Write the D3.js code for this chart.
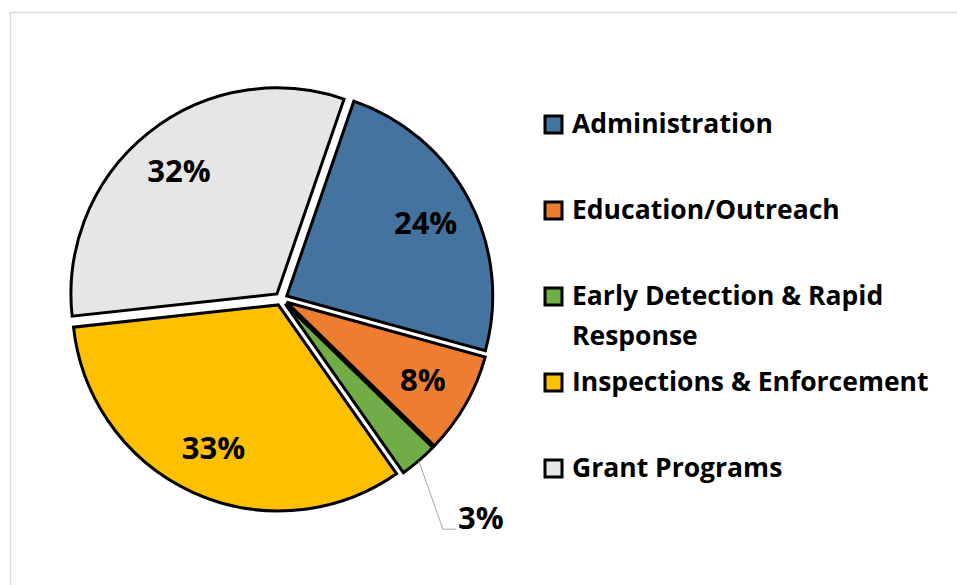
<!DOCTYPE html>
<html>
<head>
<meta charset="utf-8">
<script src="https://cdn.jsdelivr.net/npm/d3@7"></script>
<style>
  body { margin: 0; background: #fff; }
  text { font-family: "Open Sans", sans-serif; font-weight: bold; fill: #000; }
</style>
</head>
<body>
<div id="chart"></div>
<script>
// data
var categories = ["Administration", "Education/Outreach", "Early Detection & Rapid Response", "Inspections & Enforcement", "Grant Programs"]
var shares = [24, 8, 3, 33, 32]
var colors = ["#44739f", "#ed7d31", "#70ad47", "#ffc000", "#e6e6e6"]

var width = 957, height = 585
var cx = 281, cy = 299, radius = 206, explode = 6.5

var svg = d3.select("#chart").append("svg")
  .attr("width", width)
  .attr("height", height)

// chart frame
svg.append("rect")
  .attr("x", 10.5).attr("y", 12.5)
  .attr("width", 1000).attr("height", 700)
  .attr("fill", "none")
  .attr("stroke", "#d9d9d9")
  .attr("stroke-width", 1.5)

var start = 19 * Math.PI / 180

var pie = d3.pie()
  .sort(null)
  .startAngle(start)
  .endAngle(start + 2 * Math.PI)
  .value(function(d) { return d })

var arc = d3.arc().innerRadius(0).outerRadius(radius)

var slices = pie(shares)

function mid(d) { return (d.startAngle + d.endAngle) / 2 }
function shift(d) {
  var a = mid(d)
  return [cx + explode * Math.sin(a), cy - explode * Math.cos(a)]
}

var g = svg.selectAll("g.slice")
  .data(slices)
  .enter()
  .append("g")
    .attr("class", "slice")
    .attr("transform", function(d) { var p = shift(d); return "translate(" + p[0] + "," + p[1] + ")" })

g.append("path")
  .attr("d", arc)
  .attr("fill", function(d, i) { return colors[i] })
  .attr("stroke", "#000")
  .attr("stroke-width", 3)

//LABELS

var labelR = 157

g.filter(function(d) { return d.data >= 5 })
  .append("text")
    .attr("x", function(d) { return labelR * Math.sin(mid(d)) })
    .attr("y", function(d) { return -labelR * Math.cos(mid(d)) })
    .attr("dy", "0.36em")
    .attr("text-anchor", "middle")
    .style("font-size", "31px")
    .text(function(d) { return d.data + "%" })

// small slice gets a leader line
var small = g.filter(function(d) { return d.data < 5 })

small.each(function(d) {
  var a = mid(d)
  var p0 = [radius * Math.sin(a), -radius * Math.cos(a)]
  var p1 = [275 * Math.sin(d.endAngle), -275 * Math.cos(d.endAngle)]
  var p2 = [p1[0] + 13, p1[1]]
  d3.select(this).append("polyline")
    .attr("points", [p0, p1, p2].map(function(p) { return p.join(",") }).join(" "))
    .attr("fill", "none")
    .attr("stroke", "#a6a6a6")
    .attr("stroke-width", 1)
  d3.select(this).append("text")
    .attr("x", p2[0] + 2)
    .attr("y", p2[1])
    .style("font-size", "31px")
    .text(d.data + "%")
})

//LEGEND

var legend = svg.append("g")
  .attr("transform", "translate(545,125)")

var item = legend.selectAll("g")
  .data(categories)
  .enter()
  .append("g")
    .attr("transform", function(d, i) { return "translate(0," + (i * 86) + ")" })

item.append("rect")
  .attr("x", 0).attr("y", -9)
  .attr("width", 17).attr("height", 17)
  .attr("fill", function(d, i) { return colors[i] })
  .attr("stroke", "#000")
  .attr("stroke-width", 3)

item.append("text")
  .attr("x", 27)
  .attr("y", 8)
  .style("font-size", "26.5px")
  .each(function(d) {
    var t = d3.select(this)
    var words = d.split(" ")
    var line = []
    var tspan = t.append("tspan").attr("x", 27).attr("dy", 0)
    words.forEach(function(w) {
      line.push(w)
      tspan.text(line.join(" "))
      if (tspan.node().getComputedTextLength() > 360 && line.length > 1) {
        line.pop()
        tspan.text(line.join(" "))
        line = [w]
        tspan = t.append("tspan").attr("x", 27).attr("dy", 40).text(w)
      }
    })
  })
</script>
</body>
</html>
